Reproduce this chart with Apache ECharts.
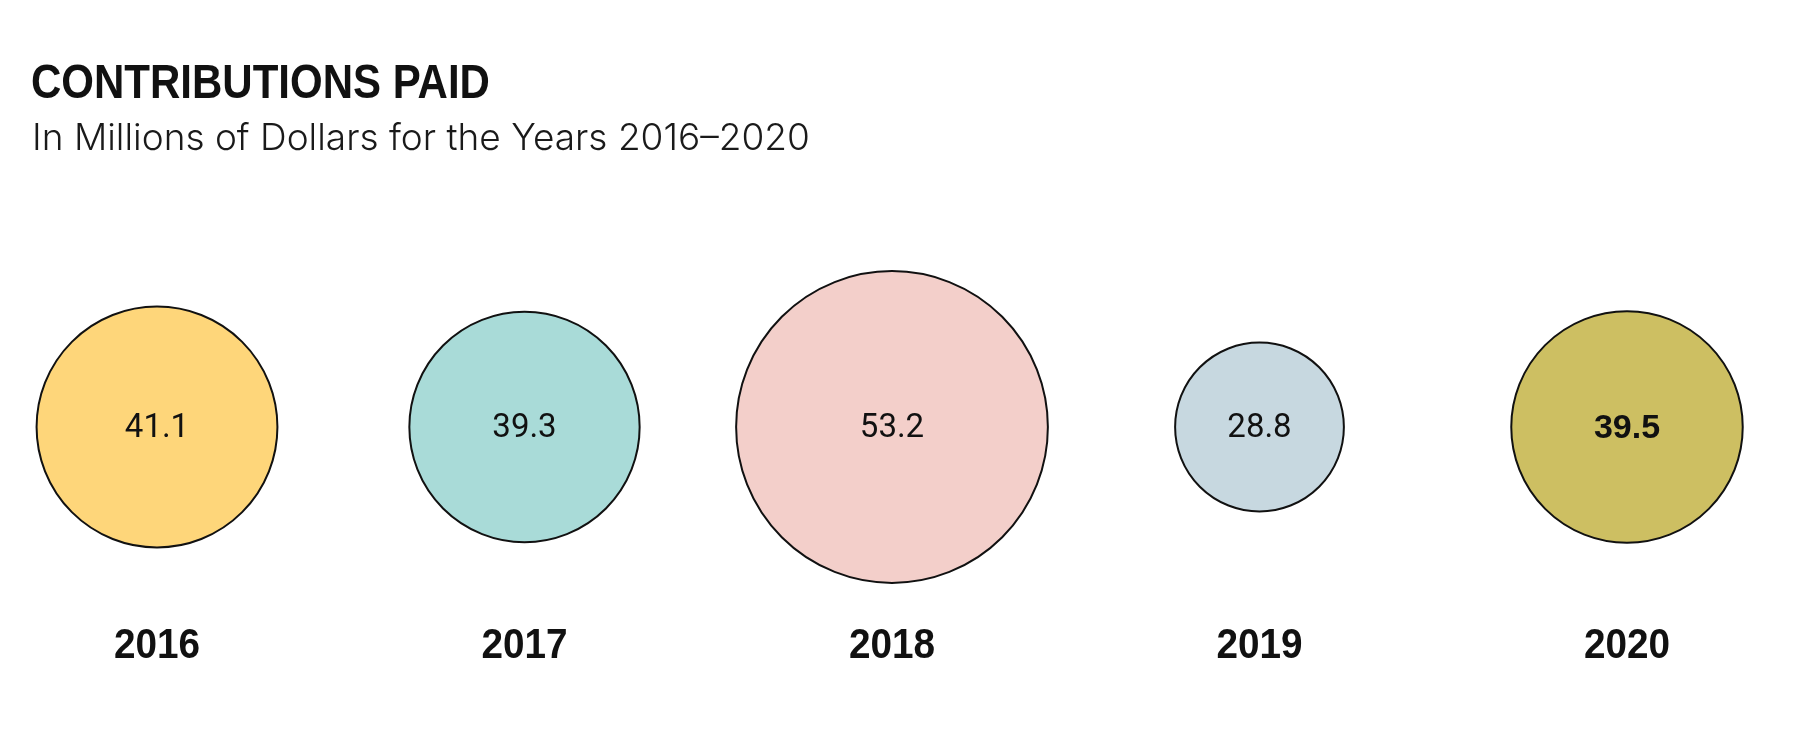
<!DOCTYPE html>
<html>
<head>
<meta charset="utf-8">
<script src="https://cdn.jsdelivr.net/npm/echarts@6/dist/echarts.min.js"></script>
<style>
html,body{margin:0;padding:0;background:#fff;}
#chart{width:1802px;height:750px;}
</style>
</head>
<body>
<div id="chart"></div>
<script>
const years = ['2016', '2017', '2018', '2019', '2020'];
const contributions = [41.1, 39.3, 53.2, 28.8, 39.5];
const colors = ['#FED67A', '#A9DBD8', '#F3CFCA', '#C7D8E0', '#CDBF62'];
const titleText = 'CONTRIBUTIONS PAID';
const subtitleText = 'In Millions of Dollars for the Years 2016\u20132020';
const bubbleRow = 0;   // y-level of bubbles
const labelRow = -1;   // y-level of year labels

const chart = echarts.init(document.getElementById('chart'));
chart.setOption({
  backgroundColor: '#ffffff',
  animation: false,
  title: [
    {
      text: subtitleText,
      left: 27, top: 115,
      textStyle: { fontFamily: 'Inter, Roboto, sans-serif', fontWeight: 300, fontSize: 37, lineHeight: 37, color: '#1a1a1a' }
    }
  ],
  graphic: [
    {
      type: 'text',
      x: 31, y: 61,
      scaleX: 0.875,
      style: {
        text: titleText,
        font: 'bold 48px "Liberation Sans", Arial, sans-serif',
        fill: '#111',
        textAlign: 'left',
        textVerticalAlign: 'top'
      }
    }
  ],
  grid: { left: 157, right: 175, top: 208, bottom: 104 },
  xAxis: {
    type: 'category',
    data: years,
    boundaryGap: false,
    show: false
  },
  yAxis: { type: 'value', min: -1, max: 1, show: false },
  series: [
    {
      type: 'scatter',
      data: contributions.map((v, i) => ({
        value: [years[i], bubbleRow],
        itemStyle: { color: colors[i] },
        label: i === 4 ? { fontFamily: '"Liberation Sans", Arial, sans-serif', fontWeight: 'bold', fontSize: 34 } : undefined
      })),
      symbol: 'circle',
      symbolSize: (val, params) => contributions[params.dataIndex] * 5.86,
      itemStyle: { borderColor: '#111', borderWidth: 2, opacity: 1 },
      label: {
        show: true,
        position: 'inside',
        offset: [0, 2],
        formatter: (p) => contributions[p.dataIndex].toFixed(1),
        fontFamily: 'Roboto',
        fontSize: 33,
        color: '#111'
      },
      emphasis: { disabled: true },
      z: 2
    },
    {
      type: 'custom',
      data: years.map((y) => [y, labelRow]),
      renderItem: (params, api) => {
        const pt = api.coord([api.value(0), api.value(1)]);
        return {
          type: 'text',
          x: pt[0], y: pt[1],
          scaleX: 0.9,
          style: {
            text: years[params.dataIndex],
            font: 'bold 43px "Liberation Sans", Arial, sans-serif',
            fill: '#111',
            textAlign: 'center',
            textVerticalAlign: 'middle'
          }
        };
      },
      silent: true,
      z: 3
    }
  ]
});
</script>
</body>
</html>
